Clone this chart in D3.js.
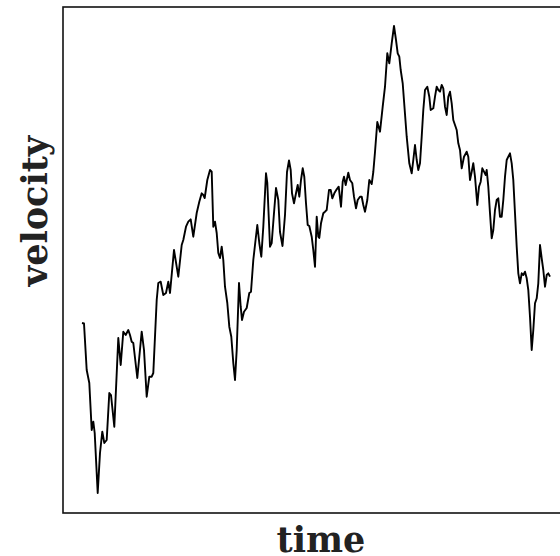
<!DOCTYPE html>
<html>
<head>
<meta charset="utf-8">
<script src="https://cdn.jsdelivr.net/npm/d3@7"></script>
<style>
  html, body { margin: 0; padding: 0; background: #fff; }
  svg { display: block; }
</style>
</head>
<body>
<svg id="chart" width="560" height="556"></svg>
<script>
// Data (arbitrary units)
const time = [
  0, 2, 4.7, 7.3, 9.7, 11.3, 12.7, 15.7, 18, 20.3, 22.3, 24.7, 27.3, 29, 32.3, 36.3, 38.7, 41.3, 43.7, 46.3,
  48, 49.7, 51.3, 55.3, 59.7, 62, 64.7, 67.3, 69.7, 71.3, 74.7, 76.3, 78.7, 81.3, 84, 86.3, 88,
  92, 96.3, 99.7, 101.3, 104, 106.3, 108.7, 111.3, 114.7, 117.3, 119.7, 121.3, 122.7, 125.3, 128, 129.7,
  131.3, 133, 134.7, 136.3, 138, 139.7, 141.3, 143, 145.3, 147.3, 149.3, 151.3, 153, 154.7, 157, 158.7,
  160, 162, 164.7, 167.3, 169, 171.3, 173, 175.3, 177.3, 179.3, 181.3, 184, 185.3, 188, 189.7, 192, 194,
  196.3, 198, 200.5, 203, 205, 207,
  208.7, 210, 212, 214, 215.7, 217.3, 219, 220.7, 222.3, 224, 225.7, 227.3, 229.7, 231.3, 233, 234.7,
  236.3, 237.3, 239, 241.3, 243, 244.7, 247, 248.7, 250.3, 252.3, 254.7, 256.7, 259, 260.7, 262, 263.7,
  266.3, 268, 270.3, 272, 274, 275.7, 278, 279.7, 281.3, 283, 285.3, 287.3, 289.7, 291.3, 293, 295.3,
  298, 300.7, 303, 305.3, 307.3, 309.7, 312, 314, 315.7, 317.3, 318.7, 320.7, 322.7, 324.7, 327.3, 329.7,
  331.3, 333, 334.7, 336.3, 338, 339.7, 341.3, 343, 345.3, 347.3, 348.7, 351.3, 353, 354.7, 356.3, 358,
  359.7, 361.3, 363, 364.7, 366.3, 368, 369.7, 371.3, 373, 374.7, 376.3, 378,
  379.7, 382, 384.7, 386.3, 388, 389.7, 391.3, 393, 395.3, 397, 398.7, 400.3, 402, 403.7, 404.7, 406.3,
  408, 409.7, 411.3, 413, 414.7, 416.3, 418, 419.7, 421.3, 423, 424.7, 426.3, 428, 429.7, 431.3, 433,
  434.7, 436.3, 438, 439.7, 441.3, 443, 444.7, 446.3, 448, 449.7, 451.3, 453, 454.7, 456.3, 458, 459.7,
  461.3, 463, 464.7, 466.3, 468
];
const velocity = [
  190, 189.5, 143, 130, 83, 91.3, 80, 20, 60, 81.3, 70, 73, 120, 118, 86.3, 175, 148, 181.3, 178, 183,
  178, 171.3, 170, 135, 181.3, 163, 116.3, 136.3, 136.3, 140, 213, 230, 231.3, 218, 220, 231.3, 220,
  263, 236.3, 268, 273, 286.3, 291.3, 293.7, 276.3, 300, 311.3, 319.7, 318, 315, 333, 343, 341.3,
  286.3, 291.3, 280, 260, 255, 266.3, 253, 226.3, 210, 186.3, 176.3, 150, 133, 163, 230, 206.3,
  193, 201.3, 205, 220, 221.3, 253, 268, 288, 270, 256.3, 286.3, 339.7, 330, 266.3, 270, 300, 325,
  313, 281, 267, 298, 341, 352.5,
  343, 319.7, 309.7, 319.7, 328, 316.3, 333, 344.7, 336.3, 309.7, 288, 287, 276.3, 263, 246.3, 296.3,
  276.3, 275, 289.7, 299.7, 301.3, 303, 323, 323, 314.7, 319.7, 323.7, 326.3, 306.3, 331.3, 336.3, 328,
  340.3, 333, 329.7, 316.3, 304.7, 313, 316.3, 316.3, 308, 301.3, 313, 333, 329, 341, 361, 391,
  381.3, 406.3, 426.3, 459.7, 449.7, 469.7, 487, 473, 459.7, 456.3, 443, 429.7, 403, 376.3, 349.7, 339.7,
  353, 368, 353, 343, 349.7, 376.3, 403, 423, 426.3, 416.3, 403, 404.7, 416.3, 426.3, 423, 421.3,
  428, 424.7, 406.3, 398, 416.3, 421.3, 409.7, 393, 388, 383, 369.7, 363,
  344.7, 356.3, 361.3, 356.3, 333, 341.3, 349.7, 336.3, 308, 326.3, 331.3, 344.7, 341.3, 338, 343, 326.3,
  299.7, 274.7, 283, 303, 313, 314.7, 296.3, 296.3, 313, 336.3, 353, 356.3, 359.7, 349.7, 333, 299.7,
  266.3, 239.7, 229.7, 239.7, 238, 241.3, 234.7, 223, 196.3, 163, 183, 209.7, 214.7, 229.7, 268, 254.7,
  243, 226.3, 238, 239.7, 236.3
];
const xLabel = "time";
const yLabel = "velocity";

const n = Math.min(time.length, velocity.length);
const points = d3.range(n).map(i => ({ t: time[i], v: velocity[i] }));

const svg = d3.select("#chart");
const mLeft = 63, mTop = 7, mRight = 580, mBottom = 513;

const x = d3.scaleLinear().domain([-19, 498]).range([mLeft, mRight]);
const y = d3.scaleLinear().domain([0, 506]).range([mBottom, mTop]);

svg.append("rect")
  .attr("x", mLeft).attr("y", mTop)
  .attr("width", mRight - mLeft).attr("height", mBottom - mTop)
  .attr("fill", "none").attr("stroke", "#111").attr("stroke-width", 1.6);

const line = d3.line().x(d => x(d.t)).y(d => y(d.v));

svg.append("path")
  .datum(points)
  .attr("d", line)
  .attr("fill", "none")
  .attr("stroke", "#000")
  .attr("stroke-width", 1.9)
  .attr("stroke-linejoin", "round")
  .attr("stroke-linecap", "butt");

svg.append("text")
  .attr("x", 321).attr("y", 552)
  .attr("text-anchor", "middle")
  .attr("font-family", "DejaVu Serif")
  .attr("font-weight", "bold")
  .attr("font-size", 35)
  .attr("fill", "#222")
  .text(xLabel);

svg.append("text")
  .attr("transform", "translate(47,211) rotate(-90)")
  .attr("text-anchor", "middle")
  .attr("font-family", "DejaVu Serif")
  .attr("font-weight", "bold")
  .attr("font-size", 35)
  .attr("fill", "#222")
  .text(yLabel);
</script>
</body>
</html>
